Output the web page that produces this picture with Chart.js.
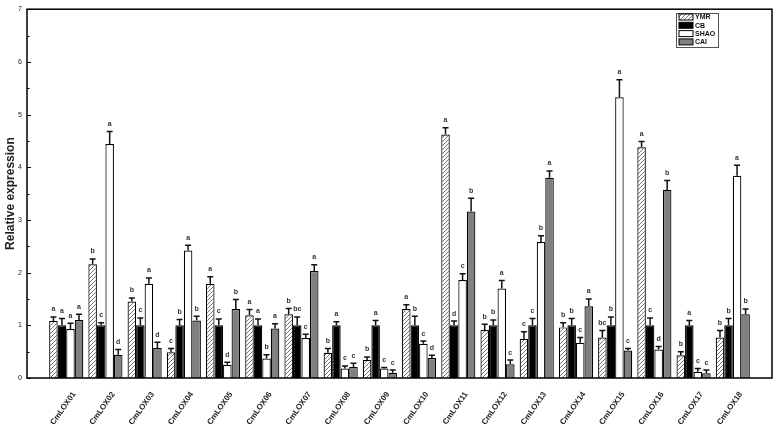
<!DOCTYPE html>
<html>
<head>
<meta charset="utf-8">
<script src="https://cdn.jsdelivr.net/npm/chart.js@4.4.0/dist/chart.umd.min.js"></script>
<style>
  html, body { margin: 0; padding: 0; background: #fff; }
  #wrap { width: 776px; height: 428px; }
</style>
</head>
<body>
<div id="wrap"><canvas id="myChart"></canvas></div>
<script>
// genes
var genes = ["CmLOX01", "CmLOX02", "CmLOX03", "CmLOX04", "CmLOX05", "CmLOX06",
  "CmLOX07", "CmLOX08", "CmLOX09", "CmLOX10", "CmLOX11", "CmLOX12",
  "CmLOX13", "CmLOX14", "CmLOX15", "CmLOX16", "CmLOX17", "CmLOX18"];

// relative expression per treatment
var ymr = [1.08, 2.16, 1.45, 0.49, 1.79, 1.19, 1.21, 0.48, 0.34, 1.31, 4.62, 0.91, 0.74, 0.96, 0.77, 4.38, 0.43, 0.77];
var cb = [1.0, 1.0, 1.0, 1.0, 1.0, 1.0, 1.0, 1.0, 1.0, 1.0, 1.0, 1.0, 1.0, 1.0, 1.0, 1.0, 1.0, 1.0];
var shao = [0.93, 4.44, 1.79, 2.42, 0.25, 0.37, 0.76, 0.18, 0.18, 0.65, 1.86, 1.70, 2.58, 0.67, 5.33, 0.54, 0.12, 3.84];
var cai = [1.10, 0.44, 0.57, 1.09, 1.31, 0.94, 2.03, 0.21, 0.10, 0.38, 3.16, 0.26, 3.80, 1.36, 0.52, 3.57, 0.09, 1.21];

// error (SD, upper only)
var ymrErr = [0.08, 0.10, 0.07, 0.07, 0.13, 0.11, 0.11, 0.08, 0.06, 0.08, 0.13, 0.11, 0.14, 0.09, 0.13, 0.11, 0.07, 0.13];
var cbErr = [0.13, 0.05, 0.14, 0.11, 0.12, 0.12, 0.16, 0.07, 0.09, 0.17, 0.08, 0.10, 0.13, 0.13, 0.16, 0.14, 0.09, 0.13];
var shaoErr = [0.11, 0.24, 0.11, 0.10, 0.05, 0.07, 0.07, 0.05, 0.02, 0.05, 0.12, 0.15, 0.12, 0.10, 0.33, 0.06, 0.06, 0.20];
var caiErr = [0.11, 0.10, 0.11, 0.08, 0.18, 0.09, 0.12, 0.07, 0.05, 0.05, 0.25, 0.08, 0.13, 0.14, 0.04, 0.18, 0.06, 0.10];

// significance letters
var ymrSig = ["a", "b", "b", "c", "a", "a", "b", "b", "b", "a", "a", "b", "c", "b", "bc", "a", "b", "b"];
var cbSig = ["a", "c", "c", "b", "c", "a", "bc", "a", "a", "b", "d", "b", "c", "b", "b", "c", "a", "b"];
var shaoSig = ["a", "a", "a", "a", "d", "b", "c", "c", "c", "c", "c", "a", "b", "c", "a", "d", "c", "a"];
var caiSig = ["a", "d", "d", "b", "b", "a", "a", "c", "c", "d", "b", "c", "a", "a", "c", "b", "c", "b"];

var yTicks = [0, 1, 2, 3, 4, 5, 6, 7];

// hatch pattern for YMR
function hatch() {
  var c = document.createElement("canvas");
  c.width = 4; c.height = 4;
  var g = c.getContext("2d");
  g.fillStyle = "#fff";
  g.fillRect(0, 0, 4, 4);
  g.strokeStyle = "#777";
  g.lineWidth = 1;
  g.beginPath();
  g.moveTo(0, 4); g.lineTo(4, 0);
  g.moveTo(-1, 1); g.lineTo(1, -1);
  g.moveTo(3, 5); g.lineTo(5, 3);
  g.stroke();
  return g.createPattern(c, "repeat");
}
var ctx = document.getElementById("myChart");
var hatchFill = hatch();

function pts(arr) {
  return arr.map(function (v, i) { return { x: i, y: v }; });
}

var series = [
  { label: "YMR", data: ymr, err: ymrErr, sig: ymrSig, fill: hatchFill },
  { label: "CB", data: cb, err: cbErr, sig: cbSig, fill: "#000" },
  { label: "SHAO", data: shao, err: shaoErr, sig: shaoSig, fill: "#fff" },
  { label: "CAI", data: cai, err: caiErr, sig: caiSig, fill: "#808080" }
];

// error bars + letters
var errorBars = {
  id: "errorBars",
  afterDatasetsDraw: function (chart) {
    var c = chart.ctx;
    var ys = chart.scales.y;
    c.save();
    c.strokeStyle = "#111";
    c.fillStyle = "#333";
    c.lineWidth = 1.5;
    c.font = "bold 7px 'Liberation Sans', Arial, sans-serif";
    c.textAlign = "center";
    c.textBaseline = "bottom";
    series.forEach(function (s, i) {
      var meta = chart.getDatasetMeta(i);
      meta.data.forEach(function (bar, j) {
        var top = ys.getPixelForValue(s.data[j] + s.err[j]);
        c.beginPath();
        c.moveTo(bar.x, bar.y);
        c.lineTo(bar.x, top);
        c.moveTo(bar.x - 3, top);
        c.lineTo(bar.x + 3, top);
        c.stroke();
        c.fillText(s.sig[j], bar.x, top - 4);
      });
    });
    c.restore();
  }
};

// frame, inner y ticks, legend box
var frame = {
  id: "frame",
  afterDraw: function (chart) {
    var c = chart.ctx;
    var a = chart.chartArea;
    var ys = chart.scales.y;
    c.save();
    c.strokeStyle = "#000";
    c.lineWidth = 1.5;
    c.strokeRect(a.left, a.top, a.right - a.left, a.bottom - a.top);
    c.lineWidth = 1;
    c.beginPath();
    for (var v = 0; v <= 7; v += 0.5) {
      var y = Math.round(ys.getPixelForValue(v)) + 0.5;
      var len = (v % 1 === 0) ? 4 : 2.5;
      c.moveTo(a.left, y);
      c.lineTo(a.left + len, y);
    }
    c.stroke();

    // legend
    var lx = 676, ly = 13, lw = 42, lh = 34;
    c.strokeStyle = "#555";
    c.lineWidth = 1;
    c.strokeRect(lx + 0.5, ly + 0.5, lw, lh);
    c.font = "bold 7px 'Liberation Sans', Arial, sans-serif";
    c.textAlign = "left";
    c.textBaseline = "middle";
    series.forEach(function (s, i) {
      var ry = ly + 4 + i * 8.3;
      c.fillStyle = s.fill;
      c.fillRect(lx + 3, ry - 3, 14, 6);
      c.strokeStyle = "#000";
      c.strokeRect(lx + 3, ry - 3, 14, 6);
      c.fillStyle = "#111";
      c.fillText(s.label, lx + 19, ry + 0.5);
    });
    c.restore();
  }
};

var myChart = new Chart(ctx, {
  type: "bar",
  data: {
    datasets: series.map(function (s) {
      return {
        label: s.label,
        data: pts(s.data),
        backgroundColor: s.fill,
        borderColor: "#000",
        borderWidth: 1.2,
        barPercentage: 1.0,
        categoryPercentage: 0.87
      };
    })
  },
  options: {
    responsive: true,
    maintainAspectRatio: false,
    animation: false,
    layout: { padding: { top: 7, right: 4, left: 0, bottom: 0 } },
    plugins: {
      legend: { display: false },
      tooltip: { enabled: false }
    },
    scales: {
      x: {
        type: "linear",
        min: -1,
        max: 18,
        offset: false,
        grid: { display: false, tickLength: 0 },
        border: { display: false },
        afterBuildTicks: function (scale) {
          scale.ticks = genes.map(function (g, i) { return { value: i }; });
        },
        afterFit: function (scale) { scale.height = 50; },
        ticks: {
          autoSkip: false,
          maxRotation: 55,
          minRotation: 55,
          padding: 12,
          labelOffset: 8,
          color: "#222",
          font: { family: "'Liberation Sans', Arial, sans-serif", size: 8, weight: "bold" },
          callback: function (v) { return genes[v] || ""; }
        }
      },
      y: {
        min: 0,
        max: 7,
        grid: { display: false, tickLength: 0 },
        border: { display: false },
        afterBuildTicks: function (scale) {
          scale.ticks = yTicks.map(function (v) { return { value: v }; });
        },
        afterFit: function (scale) { scale.width = 27; },
        title: {
          display: true,
          text: "Relative expression",
          color: "#222",
          padding: { top: 3, bottom: 0 },
          font: { family: "'Liberation Sans', Arial, sans-serif", size: 12, weight: "bold" }
        },
        ticks: {
          padding: 5,
          color: "#222",
          font: { family: "'Liberation Sans', Arial, sans-serif", size: 7 }
        }
      }
    }
  },
  plugins: [errorBars, frame]
});
</script>
</body>
</html>
